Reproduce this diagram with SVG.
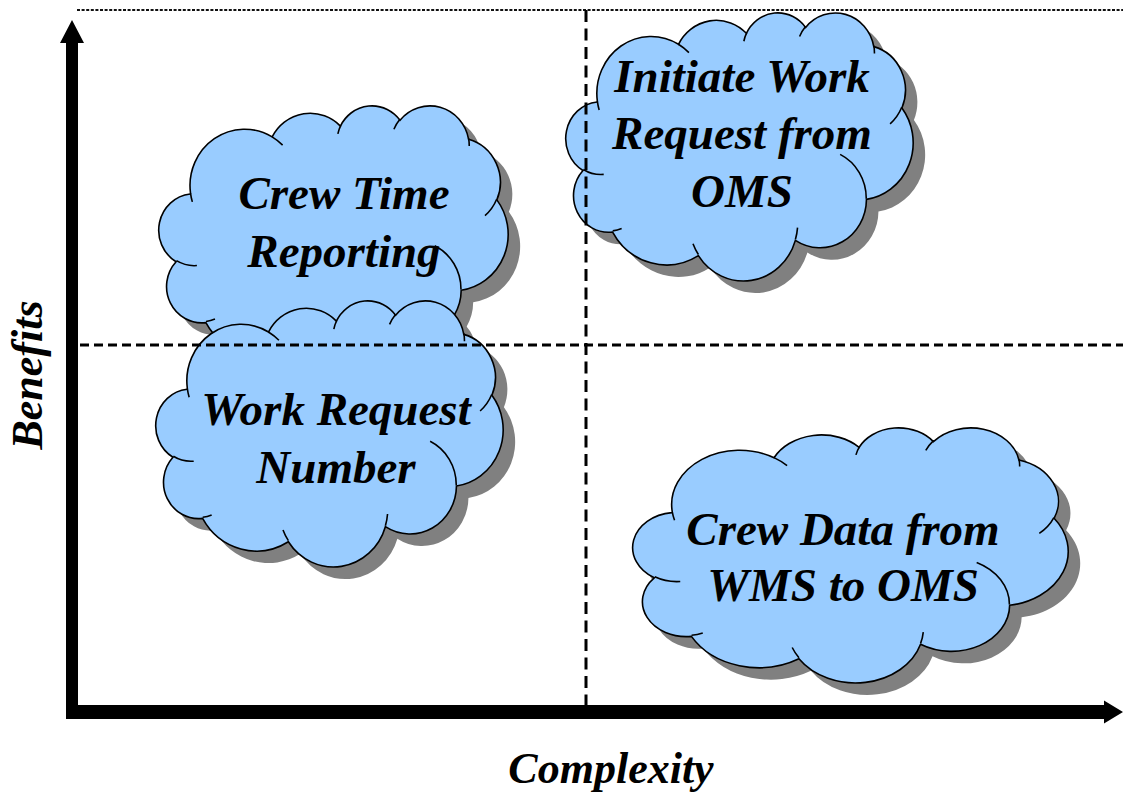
<svg xmlns="http://www.w3.org/2000/svg" xmlns:xlink="http://www.w3.org/1999/xlink" width="1123" height="798" viewBox="0 0 1123 798">
  <style>
    .shadow { fill: #808080; stroke: none; }
    .cloud { fill: #99CCFF; stroke: #000000; stroke-width: 1.6; }
    .crease { fill: none; stroke: #000000; stroke-width: 1.6; }
    .label { font-family: "Liberation Serif", "Times New Roman", serif; font-weight: bold; font-style: italic; font-size: 47px; fill: #000000; text-anchor: middle; }
    .axis-title { font-family: "Liberation Serif", "Times New Roman", serif; font-weight: bold; font-style: italic; font-size: 44px; fill: #000000; text-anchor: middle; }
    .axis { fill: #000000; stroke: none; }
    .divider { fill: none; stroke: #000000; stroke-width: 3; }
    .topline { fill: none; stroke: #111111; stroke-width: 2; stroke-dasharray: 3 1.6; }
  </style>
  <defs>
    <!-- cloud outline in a 43200 x 43200 unit box -->
    <path id="cloud-outline" vector-effect="non-scaling-stroke"
          d="M3900,14370 A6753,9190 0 0 1 14005,5202 A5333,7267 0 0 1 22458,3434 A4365,5945 0 0 1 29835,2484 A4857,6595 0 0 1 38319,5581 A5333,7273 0 0 1 41820,15465 A6775,9220 0 0 1 37405,30207 A5785,7867 0 0 1 28556,36817 A6752,9215 0 0 1 16480,39267 A7720,10543 0 0 1 5802,35471 A4360,5918 0 0 1 2113,25547 A4345,5945 0 0 1 3863,14504 Z"/>
    <!-- short inner arcs where the puffs overlap -->
    <path id="cloud-creases" vector-effect="non-scaling-stroke"
          d="M4693,26177 A4345,5945 0 0 1 2160,25380 M6928,34899 A4360,5918 0 0 1 5820,35281 M16478,39090 A6752,9215 0 0 1 15811,37352 M28827,34751 A6752,9215 0 0 1 28561,36660 M34129,22954 A5785,7867 0 0 1 37380,30089 M41798,15354 A5333,7273 0 0 1 40350,18030 M38324,5426 A4857,6595 0 0 1 38400,6690 M29078,3952 A4857,6595 0 0 1 29821,2338 M22141,4720 A4365,5945 0 0 1 22500,3330 M14000,5192 A6753,9190 0 0 1 15302,6543 M4127,15789 A6753,9190 0 0 1 3900,14371"/>
  </defs>

  <rect x="0" y="0" width="1123" height="798" fill="#FFFFFF"/>

  <!-- top boundary line -->
  <line class="topline" x1="77" y1="10" x2="1123" y2="10"/>

  <g id="node-crew-time">
    <use xlink:href="#cloud-outline" class="shadow" transform="translate(171,117) scale(0.0080787,0.0061343)"/>
    <use xlink:href="#cloud-outline" class="cloud" transform="translate(159,105) scale(0.0080787,0.0061343)"/>
    <use xlink:href="#cloud-creases" class="crease" transform="translate(159,105) scale(0.0080787,0.0061343)"/>
    <text class="label" x="344" y="209">Crew Time</text>
    <text class="label" x="344" y="267">Reporting</text>
  </g>

  <g id="node-work-request-number">
    <use xlink:href="#cloud-outline" class="shadow" transform="translate(168,312) scale(0.0080324,0.0061574)"/>
    <use xlink:href="#cloud-outline" class="cloud" transform="translate(156,300) scale(0.0080324,0.0061574)"/>
    <use xlink:href="#cloud-creases" class="crease" transform="translate(156,300) scale(0.0080324,0.0061574)"/>
    <text class="label" x="336" y="425">Work Request</text>
    <text class="label" x="336" y="483">Number</text>
  </g>

  <g id="node-initiate-work-request">
    <use xlink:href="#cloud-outline" class="shadow" transform="translate(578,24) scale(0.0080324,0.0062037)"/>
    <use xlink:href="#cloud-outline" class="cloud" transform="translate(566,12) scale(0.0080324,0.0062037)"/>
    <use xlink:href="#cloud-creases" class="crease" transform="translate(566,12) scale(0.0080324,0.0062037)"/>
    <text class="label" x="742" y="92">Initiate Work</text>
    <text class="label" x="742" y="149">Request from</text>
    <text class="label" x="742" y="207">OMS</text>
  </g>

  <g id="node-crew-data">
    <use xlink:href="#cloud-outline" class="shadow" transform="translate(645,439) scale(0.0100694,0.0059028)"/>
    <use xlink:href="#cloud-outline" class="cloud" transform="translate(633,427) scale(0.0100694,0.0059028)"/>
    <use xlink:href="#cloud-creases" class="crease" transform="translate(633,427) scale(0.0100694,0.0059028)"/>
    <text class="label" x="843" y="545">Crew Data from</text>
    <text class="label" x="843" y="601">WMS to OMS</text>
  </g>

  <!-- quadrant dividers and axes -->
  <g id="connectors">
    <line class="divider" x1="80" y1="345" x2="1123" y2="345" stroke-dasharray="9 5"/>
    <line class="divider" x1="586" y1="10" x2="586" y2="705" stroke-dasharray="12 6.5"/>
    <polygon class="axis" points="66,719 66,43 60,43 72,20 84,43 78,43 78,719"/>
    <polygon class="axis" points="66,705 1104,705 1104,700.5 1123,712 1104,723.5 1104,719 66,719"/>
  </g>

  <text class="axis-title" transform="translate(42,375) rotate(-90)">Benefits</text>
  <text class="axis-title" x="611" y="783">Complexity</text>
</svg>
